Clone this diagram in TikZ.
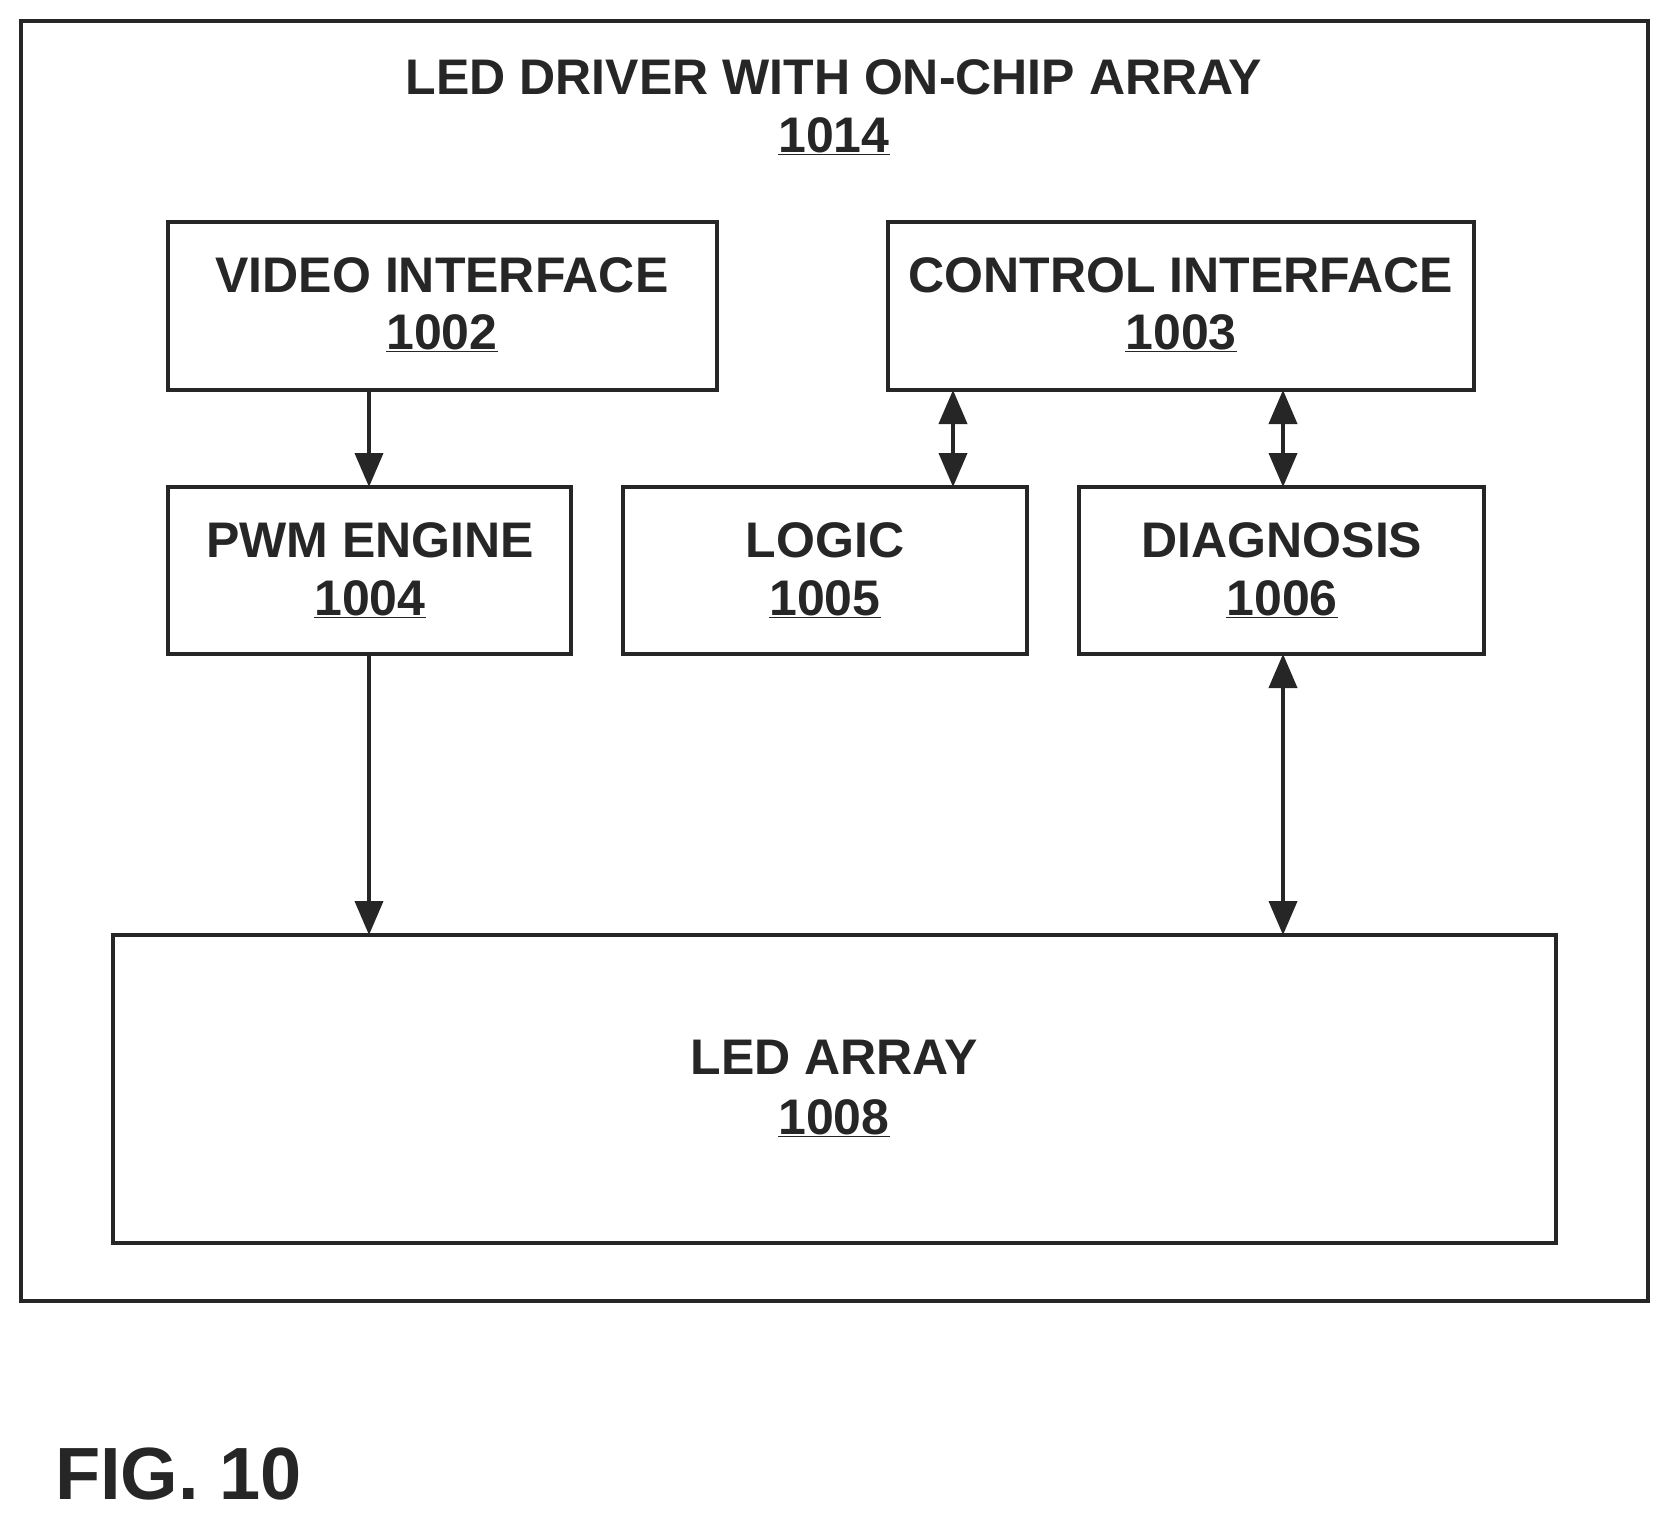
\documentclass[tikz,border=0pt]{standalone}
\usepackage{fontspec}
\setmainfont{Liberation Sans}
\usetikzlibrary{arrows.meta}
\begin{document}
\begin{tikzpicture}[x=1pt,y=-1pt,
  box/.style={draw=black!85,line width=4pt},
  lbl/.style={font=\fontsize{50}{60}\selectfont\bfseries,text=black!85},
  arr/.style={draw=black!85,line width=4pt,-{Triangle[length=34pt,width=28pt]}},
  darr/.style={draw=black!85,line width=4pt,{Triangle[length=34pt,width=28pt]}-{Triangle[length=34pt,width=28pt]}}]
\useasboundingbox (0,0) rectangle (1669,1522);
\draw[box] (21,21) rectangle (1648,1301);
\node[lbl] (t1) at (834,77) {LED DRIVER WITH ON-CHIP ARRAY};
\node[lbl] (t2) at (834,136) {\underline{1014}};
\draw[box] (168,222) rectangle (717,390);
\draw[box] (888,222) rectangle (1474,390);
\draw[box] (168,487) rectangle (571,654);
\draw[box] (623,487) rectangle (1027,654);
\draw[box] (1079,487) rectangle (1484,654);
\draw[box] (113,935) rectangle (1556,1243);
\node[lbl] (v) at (442,275) {VIDEO INTERFACE};
\node[lbl] at (442,333) {\underline{1002}};
\node[lbl] (c) at (1181,275) {CONTROL INTERFACE};
\node[lbl] at (1181,333) {\underline{1003}};
\node[lbl] at (370,540) {PWM ENGINE};
\node[lbl] at (370,599) {\underline{1004}};
\node[lbl] at (825,540) {LOGIC};
\node[lbl] at (825,599) {\underline{1005}};
\node[lbl] at (1282,540) {DIAGNOSIS};
\node[lbl] at (1282,599) {\underline{1006}};
\node[lbl] at (834,1057) {LED ARRAY};
\node[lbl] at (834,1118) {\underline{1008}};
\coordinate (a1) at (369,390); \coordinate (a2) at (369,487);
\coordinate (b1) at (953,390); \coordinate (b2) at (953,487);
\coordinate (c1) at (1283,390); \coordinate (c2) at (1283,487);
\coordinate (d1) at (369,654); \coordinate (d2) at (369,935);
\coordinate (e1) at (1283,654); \coordinate (e2) at (1283,935);
\draw[arr] (a1) -- (a2);
\draw[darr] (b1) -- (b2);
\draw[darr] (c1) -- (c2);
\draw[arr] (d1) -- (d2);
\draw[darr] (e1) -- (e2);
\node[font=\fontsize{74}{80}\selectfont\bfseries,text=black!85,anchor=west,inner sep=0] at (55,1474) {FIG. 10};
\end{tikzpicture}
\end{document}
